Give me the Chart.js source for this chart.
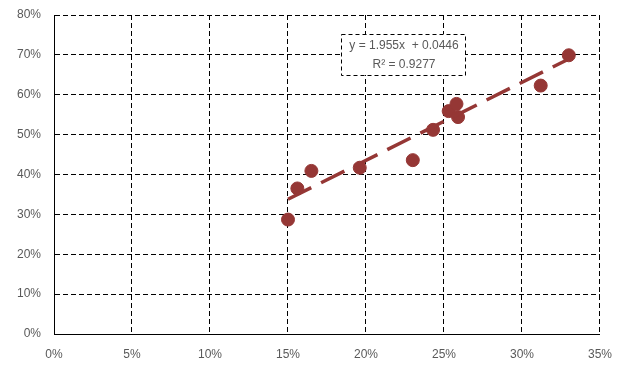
<!DOCTYPE html>
<html>
<head>
<meta charset="utf-8">
<script src="https://cdn.jsdelivr.net/npm/chart.js@4/dist/chart.umd.min.js"></script>
<style>
  html, body { margin: 0; padding: 0; background: #fff; }
  #wrap { width: 625px; height: 365px; }
</style>
</head>
<body>
<div id="wrap"><canvas id="c" width="625" height="365"></canvas></div>
<script>
// Observations (fractions)
const xValues = [0.150, 0.156, 0.165, 0.196, 0.230, 0.243, 0.253, 0.258, 0.259, 0.312, 0.330];
const yValues = [0.287, 0.365, 0.409, 0.417, 0.436, 0.512, 0.559, 0.577, 0.544, 0.623, 0.699];

// Linear fit shown in the label
const slope = 1.955;
const intercept = 0.0446;
const rSquared = 0.9277;

const xTicks = [0, 0.05, 0.10, 0.15, 0.20, 0.25, 0.30, 0.35];
const yTicks = [0, 0.1, 0.2, 0.3, 0.4, 0.5, 0.6, 0.7, 0.8];

const RED = '#953735';
const GREY = '#595959';
const FONT = "'Liberation Sans', Arial, sans-serif";

const points = xValues.map((x, i) => ({ x: x, y: yValues[i] }));
const xMin = Math.min(...xValues), xMax = Math.max(...xValues);
const fitLine = [xMin, xMax].map(x => ({ x: x, y: slope * x + intercept }));

const pct = v => Math.round(v * 100) + '%';

// Equation box drawn on top of the plot
const equationBox = {
  id: 'equationBox',
  afterDatasetsDraw(chart) {
    const ctx = chart.ctx;
    const x0 = 341, y0 = 34, w = 124, h = 41;
    ctx.save();
    ctx.fillStyle = '#fff';
    ctx.fillRect(x0, y0, w, h);
    ctx.strokeStyle = '#000';
    ctx.lineWidth = 1;
    ctx.setLineDash([4, 3]);
    ctx.strokeRect(x0 + 0.5, y0 + 0.5, w, h);
    ctx.setLineDash([]);
    ctx.fillStyle = GREY;
    ctx.font = '12px ' + FONT;
    ctx.textAlign = 'center';
    ctx.textBaseline = 'middle';
    ctx.fillText('y = ' + slope.toFixed(3) + 'x  + ' + intercept.toFixed(4), x0 + w / 2 + 1, y0 + 12);
    ctx.fillText('R\u00B2 = ' + rSquared.toFixed(4), x0 + w / 2 + 1, y0 + 31);
    ctx.restore();
  }
};

new Chart(document.getElementById('c'), {
  type: 'scatter',
  data: {
    datasets: [
      {
        type: 'line',
        data: fitLine,
        borderColor: RED,
        borderWidth: 3.5,
        borderDash: [26, 11],
        borderCapStyle: 'butt',
        pointRadius: 0,
        fill: false,
        order: 0
      },
      {
        data: points,
        backgroundColor: RED,
        borderColor: RED,
        pointRadius: 6.5,
        pointHoverRadius: 6.5,
        order: 1
      }
    ]
  },
  options: {
    responsive: false,
    animation: false,
    events: [],
    layout: { padding: { top: 15, right: 24, bottom: 0, left: 0 } },
    plugins: { legend: { display: false }, tooltip: { enabled: false } },
    scales: {
      x: {
        type: 'linear',
        min: 0, max: 0.35,
        afterBuildTicks: s => { s.ticks = xTicks.map(v => ({ value: v })); },
        afterFit: s => { s.height = 31; },
        ticks: {
          color: GREY,
          font: { family: FONT, size: 12 },
          padding: 13,
          maxRotation: 0,
          callback: v => pct(v)
        },
        grid: { color: '#000', lineWidth: 1, drawTicks: false },
        border: { display: true, color: '#000', width: 1, dash: [5, 3] }
      },
      y: {
        type: 'linear',
        min: 0, max: 0.8,
        afterBuildTicks: s => { s.ticks = yTicks.map(v => ({ value: v })); },
        afterFit: s => { s.width = 54; s.paddingTop = 0; s.paddingBottom = 0; },
        ticks: {
          color: GREY,
          font: { family: FONT, size: 12 },
          padding: 13,
          callback: v => pct(v)
        },
        grid: { color: '#000', lineWidth: 1, drawTicks: false },
        border: { display: true, color: '#000', width: 1, dash: [5, 3] }
      }
    }
  },
  plugins: [equationBox]
});
</script>
</body>
</html>
